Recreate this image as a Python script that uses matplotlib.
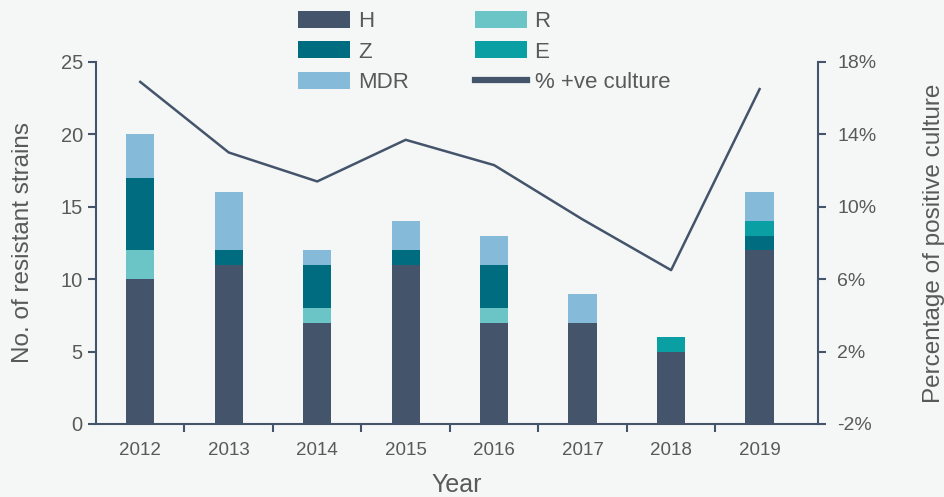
import matplotlib
matplotlib.use("Agg")
import matplotlib.pyplot as plt
from matplotlib.ticker import FuncFormatter
import numpy as np

plt.rcParams["font.family"] = ["Liberation Sans", "DejaVu Sans"]

# Daten
years = ["2012", "2013", "2014", "2015", "2016", "2017", "2018", "2019"]
h_vals   = [10, 11, 7, 11, 7, 7, 5, 12]
r_vals   = [2, 0, 1, 0, 1, 0, 0, 0]
z_vals   = [5, 1, 3, 1, 3, 0, 0, 1]
e_vals   = [0, 0, 0, 0, 0, 0, 1, 1]
mdr_vals = [3, 4, 1, 2, 2, 2, 0, 2]
pos_culture = [16.9, 13.0, 11.4, 13.7, 12.3, 9.3, 6.5, 16.5]

series = [("H", h_vals, "#44546A"), ("R", r_vals, "#6BC4C6"),
          ("Z", z_vals, "#006C80"), ("E", e_vals, "#0A9FA3"),
          ("MDR", mdr_vals, "#85BAD8")]

bg = "#F5F7F7"
axis_col = "#44546A"
text_col = "#595959"

fig = plt.figure(figsize=(9.44, 4.97), dpi=100, facecolor=bg)
ax = fig.add_axes([0.1017, 0.1469, 0.7648, 0.7284], facecolor=bg)

x = np.arange(len(years))
bottom = np.zeros(len(years))
handles = {}
for name, vals, col in series:
    b = ax.bar(x, vals, width=0.32, bottom=bottom, color=col, label=name, zorder=2)
    handles[name] = b
    bottom += np.array(vals)

ax.set_xlim(-0.5, 7.66)
ax.set_ylim(0, 25)
ax.set_yticks([0, 5, 10, 15, 20, 25])
ax.set_xticks(x)
ax.set_xticklabels(years)
ax.set_xticks(np.arange(0.5, 7, 1), minor=True)
ax.tick_params(axis="x", which="major", length=0, pad=13, labelsize=13.5, colors=text_col)
ax.tick_params(axis="x", which="minor", length=6, width=1.5, color=axis_col)
ax.tick_params(axis="y", length=6, width=1.5, color=axis_col, labelsize=14.5, labelcolor=text_col)
for s in ["top", "right"]:
    ax.spines[s].set_visible(False)
for s in ["left", "bottom"]:
    ax.spines[s].set_color(axis_col)
    ax.spines[s].set_linewidth(1.5)
ax.set_ylabel("No. of resistant strains", fontsize=17.5, color=text_col, labelpad=19)
ax.set_xlabel("Year", fontsize=18, color=text_col, labelpad=10)

ax2 = ax.twinx()
line, = ax2.plot(x, pos_culture, color=axis_col, linewidth=1.8, label="% +ve culture", zorder=3)
ax2.set_ylim(-2, 18)
ax2.set_yticks([-2, 2, 6, 10, 14, 18])
ax2.yaxis.set_major_formatter(FuncFormatter(lambda v, p: f"{v:.0f}%"))
ax2.tick_params(axis="y", length=6, width=1.5, color=axis_col, labelsize=14, labelcolor=text_col, pad=8)
for s in ["top", "left", "bottom"]:
    ax2.spines[s].set_visible(False)
ax2.spines["right"].set_color(axis_col)
ax2.spines["right"].set_linewidth(1.5)
ax2.set_ylabel("Percentage of positive culture", fontsize=17.5, color=text_col, labelpad=33)

order = [handles["H"], handles["Z"], handles["MDR"], handles["R"], handles["E"], line]
labels = ["H", "Z", "MDR", "R", "E", "% +ve culture"]
leg = fig.legend(order, labels, ncol=2, loc="upper left", bbox_to_anchor=(0.2946, 1.018),
                 frameon=False, fontsize=16, handlelength=2.35, handleheight=0.78,
                 columnspacing=2.95, labelspacing=0.42, handletextpad=0.35)
for t in leg.get_texts():
    t.set_color(text_col)
for ln in leg.get_lines():
    ln.set_linewidth(4.5)

fig.savefig("out.png", dpi=100, facecolor=bg)
